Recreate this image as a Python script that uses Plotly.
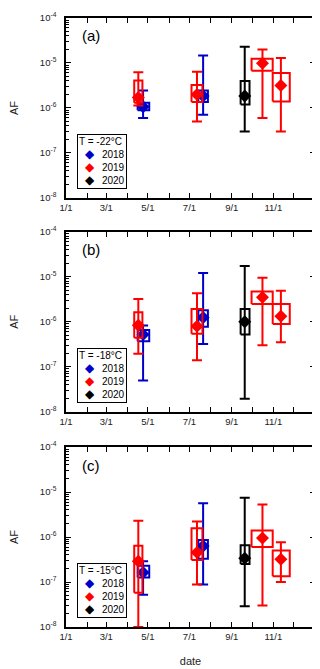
import plotly.graph_objects as go

# ---------------- data ----------------
years = ["2018", "2019", "2020"]
year_colors = ["#0000c8", "#ff0000", "#000000"]

# groups (same order in every panel)
group_year = ["2019", "2018", "2019", "2018", "2020", "2019", "2019"]
group_date = ["2019-04-17", "2019-04-24", "2019-07-12", "2019-07-21",
              "2019-09-20", "2019-10-16", "2019-11-12"]
group_start = ["2019-04-11", "2019-04-16", "2019-07-04", "2019-07-14",
               "2019-09-14", "2019-09-30", "2019-10-31"]
group_end = ["2019-04-23", "2019-05-03", "2019-07-20", "2019-07-28",
             "2019-09-27", "2019-10-31", "2019-11-25"]

# panel (a) T = -22 C
a_med = [1.7e-6, 1.07e-6, 2.0e-6, 1.84e-6, 1.84e-6, 9.9e-6, 3.15e-6]
a_q1 = [1.3e-6, 8.9e-7, 1.35e-6, 1.35e-6, 1.2e-6, 6.7e-6, 1.4e-6]
a_q3 = [4.1e-6, 1.3e-6, 3.25e-6, 2.45e-6, 4.0e-6, 1.24e-5, 6.0e-6]
a_lo = [1.13e-6, 6.0e-7, 5.0e-7, 7.1e-7, 3.0e-7, 6.0e-7, 3.0e-7]
a_hi = [6.2e-6, 2.45e-6, 6.4e-6, 1.46e-5, 2.3e-5, 2.0e-5, 1.29e-5]

# panel (b) T = -18 C
b_med = [8.4e-7, 5.2e-7, 8.0e-7, 1.25e-6, 1.0e-6, 3.5e-6, 1.33e-6]
b_q1 = [4.4e-7, 3.7e-7, 5.4e-7, 7.8e-7, 5.2e-7, 2.5e-6, 8.9e-7]
b_q3 = [1.63e-6, 6.6e-7, 1.93e-6, 1.8e-6, 1.93e-6, 4.7e-6, 2.5e-6]
b_lo = [1.94e-7, 4.95e-8, 1.4e-7, 3.2e-7, 1.96e-8, 3.0e-7, 3.5e-7]
b_hi = [3.2e-6, 8.3e-7, 4.3e-6, 1.21e-5, 1.73e-5, 9.5e-6, 4.9e-6]

# panel (c) T = -15 C
c_med = [2.9e-7, 1.62e-7, 4.5e-7, 6.3e-7, 3.36e-7, 9.5e-7, 3.2e-7]
c_q1 = [5.8e-8, 1.26e-7, 3.1e-7, 3.3e-7, 2.5e-7, 6.0e-7, 1.35e-7]
c_q3 = [6.4e-7, 2.3e-7, 1.56e-6, 8.6e-7, 6.6e-7, 1.39e-6, 5.0e-7]
c_lo = [1.0e-8, 5.2e-8, 8.8e-8, 8.8e-8, 2.9e-8, 3.0e-8, 1.0e-7]
c_hi = [2.3e-6, 2.9e-7, 2.2e-6, 5.6e-6, 7.5e-6, 5.3e-6, 7.7e-7]

panel_labels = ["(a)", "(b)", "(c)"]
panel_temps = ["T = -22°C", "T = -18°C", "T = -15°C"]

x_tickvals = ["2019-01-01", "2019-03-01", "2019-05-01", "2019-07-01",
              "2019-09-01", "2019-11-01"]
x_ticktext = ["1/1", "3/1", "5/1", "7/1", "9/1", "11/1"]
y_tickvals = [1e-8, 1e-7, 1e-6, 1e-5, 1e-4]
y_ticktext = ["10<sup>-8</sup>", "10<sup>-7</sup>", "10<sup>-6</sup>",
              "10<sup>-5</sup>", "10<sup>-4</sup>"]

# ---------------- figure ----------------
FONT = "Liberation Sans, Arial, sans-serif"
panels = [(a_med, a_q1, a_q3, a_lo, a_hi),
          (b_med, b_q1, b_q3, b_lo, b_hi),
          (c_med, c_q1, c_q3, c_lo, c_hi)]
domains = [[0.7045, 1.0], [0.3534, 0.6489], [0.0, 0.2955]]

fig = go.Figure()

for p, (med, q1, q3, lo, hi) in enumerate(panels):
    sfx = "" if p == 0 else str(p + 1)
    for yr, col in zip(years, year_colors):
        idx = [i for i, g in enumerate(group_year) if g == yr]
        bx, by = [], []
        for i in idx:
            bx += [group_start[i], group_end[i], group_end[i], group_start[i],
                   group_start[i], None]
            by += [q1[i], q1[i], q3[i], q3[i], q1[i], None]
        fig.add_trace(go.Scatter(
            x=bx, y=by, mode="lines", line=dict(color=col, width=2),
            xaxis="x" + sfx, yaxis="y" + sfx, showlegend=False,
            hoverinfo="skip"))
        fig.add_trace(go.Scatter(
            x=[group_date[i] for i in idx], y=[med[i] for i in idx],
            mode="markers", name=yr,
            marker=dict(symbol="diamond", size=10, color=col),
            error_y=dict(type="data", symmetric=False,
                         array=[hi[i] - med[i] for i in idx],
                         arrayminus=[med[i] - lo[i] for i in idx],
                         color=col, thickness=2, width=5),
            xaxis="x" + sfx, yaxis="y" + sfx, showlegend=False))

    xa = dict(type="date", range=["2019-01-01", "2020-01-01"],
              tickvals=x_tickvals, ticktext=x_ticktext,
              ticks="inside", ticklen=5, tickwidth=1, tickcolor="black",
              minor=dict(dtick="M1", tick0="2019-01-01", ticks="inside",
                         ticklen=5, tickcolor="black"),
              showline=True, linecolor="black", linewidth=1.5, mirror="ticks",
              showgrid=False, zeroline=False, anchor="y" + sfx,
              tickfont=dict(family=FONT, size=9.5, color="#222"))
    if p == 2:
        xa["title"] = dict(text="date", font=dict(family=FONT, size=11, color="#222"),
                           standoff=16)
    ya = dict(type="log", range=[-8, -4], domain=domains[p],
              tickvals=y_tickvals, ticktext=y_ticktext,
              ticks="inside", ticklen=5, tickcolor="black",
              minor=dict(dtick="D1", ticks="inside", ticklen=3, tickcolor="black"),
              showline=True, linecolor="black", linewidth=1.5, mirror="ticks",
              showgrid=False, zeroline=False, anchor="x" + sfx,
              ticklabelstandoff=6,
              tickfont=dict(family=FONT, size=9.5, color="#222"),
              title=dict(text="AF", font=dict(family=FONT, size=11, color="#222"),
                         standoff=21))
    fig.layout["xaxis" + sfx] = xa
    fig.layout["yaxis" + sfx] = ya

    fig.add_annotation(text=panel_labels[p], xref="x%s domain" % sfx,
                       yref="y%s domain" % sfx, x=0.055, y=0.9,
                       xanchor="left", yanchor="middle", showarrow=False,
                       font=dict(family=FONT, size=15, color="black"))

    leg_lines = [panel_temps[p]]
    for yr, col in zip(years, year_colors):
        leg_lines.append("\u00a0\u00a0<span style='color:%s;font-size:12px'>◆</span>"
                         "\u00a0\u00a0\u00a0%s" % (col, yr))
    fig.add_annotation(text="<br>".join(leg_lines), xref="x%s domain" % sfx,
                       yref="y%s domain" % sfx, x=0.043, y=0.05,
                       xanchor="left", yanchor="bottom", align="left",
                       showarrow=False, bordercolor="black", borderwidth=1,
                       borderpad=1, bgcolor="white",
                       font=dict(family=FONT, size=10, color="black"))

# the page body adds an 8 px margin; compensate so the plot frame lands where
# the reference has it
fig.update_layout(width=312, height=661,
                  margin=dict(l=51, r=5, t=3, b=42),
                  plot_bgcolor="white", paper_bgcolor="white",
                  showlegend=False, font=dict(family=FONT))

fig.write_html("out.html")
